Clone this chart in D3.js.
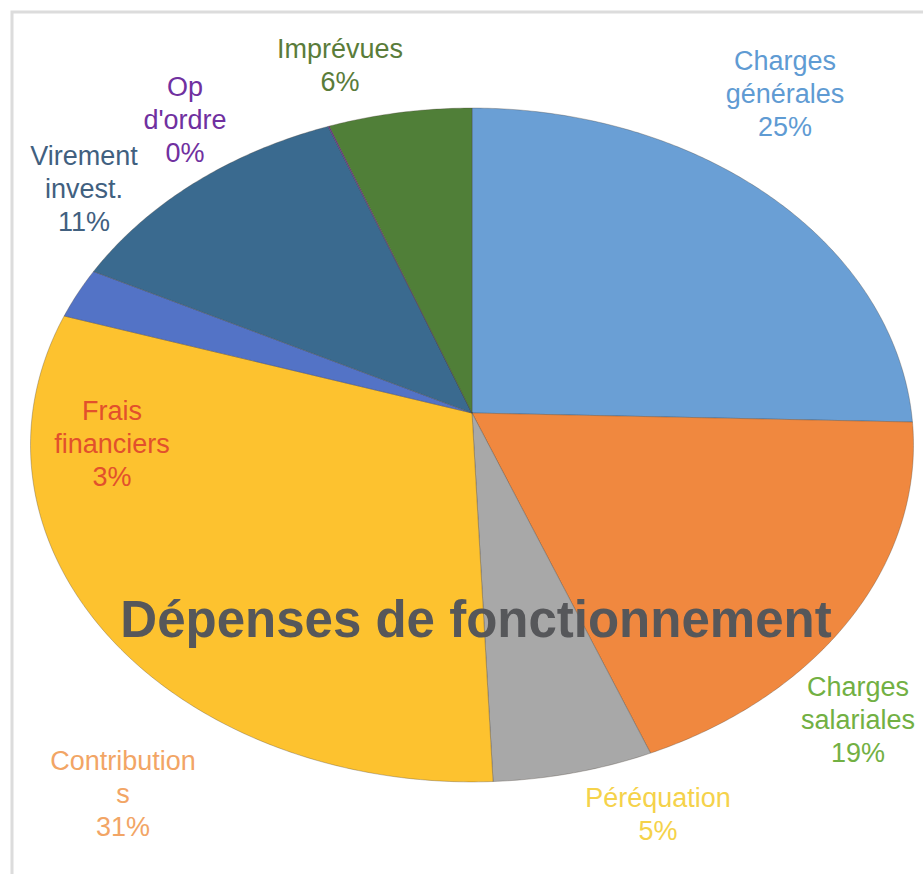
<!DOCTYPE html>
<html lang="fr">
<head>
  <meta charset="UTF-8">
  <title>Dépenses de fonctionnement</title>
  <style>
    body { margin: 0; background: #fff; }
    svg { display: block; font-family: "Liberation Sans", Arial, Helvetica, sans-serif; }
    .label { font-size: 27px; }
    .title { font-size: 51px; font-weight: bold; fill: #56575a; }
  </style>
</head>
<body>
  <script src="https://d3js.org/d3.v7.min.js"></script>
  <script>
// data (slice sizes, labels as printed)
const categories = ['Charges générales', 'Charges salariales', 'Péréquation', 'Contributions',
  'Frais financiers', 'Virement invest.', "Op d'ordre", 'Imprévues']
const values = [25.43, 18.53, 5.35, 30.52, 2.45, 11.92, 0.05, 5.75]
const pctLabels = ['25%', '19%', '5%', '31%', '3%', '11%', '0%', '6%']
const labelLines = [['Charges', 'générales'], ['Charges', 'salariales'], ['Péréquation'],
  ['Contribution', 's'], ['Frais', 'financiers'], ['Virement', 'invest.'], ['Op', "d'ordre"], ['Imprévues']]

// styling / layout
const sliceColors = ['#6a9fd5', '#f0883f', '#a8a8a8', '#fdc22f', '#5373c6', '#3a6a8f', '#7030a0', '#507f38']
const labelColors = ['#5f9bd3', '#72b043', '#f5d24a', '#f2a565', '#e2502c', '#41607f', '#7030a0', '#5a7c3a']
const labelAnchor = [[785, 60], [858, 686], [658, 797], [123, 760], [112, 410], [84, 155], [185, 86], [340, 48]]

const width = 923
const height = 874
const cx = 472
const cy = 413
const tilt = 0.0949      // perspective compression of the far (top) side
const rx = 439.5
const ry = 333.9

const svg = d3.select('body').append('svg')
  .attr('width', width)
  .attr('height', height)

// light frame around the picture
svg.append('rect')
  .attr('x', 12).attr('y', 12)
  .attr('width', width + 20).attr('height', height + 20)
  .attr('fill', 'none')
  .attr('stroke', '#dcdcdc')
  .attr('stroke-width', 3)

const x = d3.scaleLinear().domain([-1, 1]).range([cx - rx, cx + rx])
const y = d3.scaleLinear().domain([-1, 1]).range([cy + ry, cy - ry])

// polar point on the unit disc -> tilted (perspective) screen point
function project (angle, r) {
  const u = r * Math.sin(angle)
  const v = r * Math.cos(angle)
  const w = 1 + tilt * v
  return [x(u / w), y(v / w)]
}

const pie = d3.pie().sort(null).value(d => d)
const arcs = pie(values)

const line = d3.line()

function slicePath (d) {
  const steps = Math.max(2, Math.ceil((d.endAngle - d.startAngle) / 0.01))
  const pts = [project(0, 0)]
  d3.range(steps + 1).forEach(i => {
    const a = d.startAngle + (d.endAngle - d.startAngle) * i / steps
    pts.push(project(a, 1))
  })
  return line(pts) + 'Z'
}

svg.append('g')
  .selectAll('path')
  .data(arcs)
  .join('path')
  .attr('d', slicePath)
  .attr('fill', (d, i) => sliceColors[i])
  .attr('stroke', 'rgba(70,60,50,0.45)')
  .attr('stroke-width', 0.7)

// data labels
const lab = svg.append('g')
  .selectAll('text')
  .data(arcs)
  .join('text')
  .attr('class', 'label')
  .attr('text-anchor', 'middle')
  .attr('fill', (d, i) => labelColors[i])

lab.each(function (d, i) {
  const lines = labelLines[i].concat([pctLabels[i]])
  const [lx, ly] = labelAnchor[i]
  d3.select(this).selectAll('tspan')
    .data(lines)
    .join('tspan')
    .attr('x', lx)
    .attr('y', (t, j) => ly + 9.5 + j * 33)
    .text(t => t)
})

svg.append('text')
  .attr('class', 'title')
  .attr('x', 476)
  .attr('y', 637)
  .attr('text-anchor', 'middle')
  .text('Dépenses de fonctionnement')
  </script>
</body>
</html>
